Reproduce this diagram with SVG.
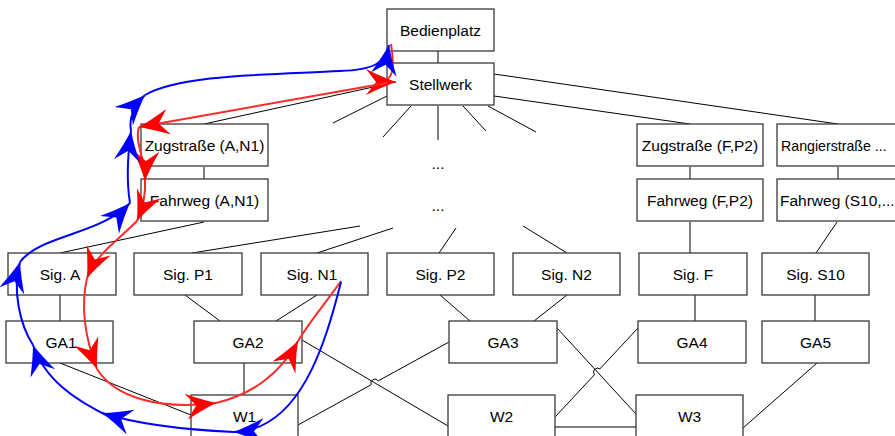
<svg xmlns="http://www.w3.org/2000/svg" width="895" height="436" viewBox="0 0 895 436">
<style>
.n rect{fill:#fff;stroke:#3a3a3a;stroke-width:1.3}
.n text{font-family:"Liberation Sans",Arial,sans-serif;font-size:15.5px;fill:#000;text-anchor:middle}
.c line,.c path{stroke:#000;stroke-width:1;fill:none}
.r{stroke:#ff2a2a;stroke-width:2;fill:none}
.b{stroke:#0000ff;stroke-width:2;fill:none}
.dots{font-family:"Liberation Sans",Arial,sans-serif;font-size:15.5px;text-anchor:middle}
</style>
<defs>
<marker id="ar" viewBox="-32 -15 34 30" refX="0" refY="0" markerWidth="34" markerHeight="30" orient="auto" markerUnits="userSpaceOnUse">
<path d="M0,0 Q-14,-5 -30,-13 L-20,0 L-30,13 Q-14,5 0,0 Z" fill="#ff0000"/>
</marker>
<marker id="ab" viewBox="-32 -15 34 30" refX="0" refY="0" markerWidth="34" markerHeight="30" orient="auto" markerUnits="userSpaceOnUse">
<path d="M0,0 Q-14,-5 -30,-13 L-20,0 L-30,13 Q-14,5 0,0 Z" fill="#0000ff"/>
</marker>
</defs>

<g id="connectors" class="c">
<line x1="438" y1="51" x2="438" y2="63"/>
<line x1="387" y1="84" x2="204" y2="124"/>
<line x1="494" y1="96" x2="690" y2="124"/>
<line x1="494" y1="74" x2="838" y2="124"/>
<line x1="387" y1="96" x2="333" y2="123"/>
<line x1="411" y1="106" x2="383" y2="137"/>
<line x1="438" y1="106" x2="438" y2="140"/>
<line x1="463" y1="106" x2="486" y2="131"/>
<line x1="488" y1="106" x2="536" y2="132"/>
<line x1="204" y1="167" x2="204" y2="179"/>
<line x1="690" y1="167" x2="690" y2="179"/>
<line x1="838" y1="167" x2="838" y2="179"/>
<line x1="204" y1="222" x2="60" y2="253"/>
<line x1="192" y1="253" x2="360" y2="226"/>
<line x1="317" y1="253" x2="393" y2="228"/>
<line x1="439" y1="253" x2="456" y2="228"/>
<line x1="567" y1="253" x2="523" y2="226"/>
<line x1="690" y1="222" x2="690" y2="253"/>
<line x1="837" y1="222" x2="816" y2="253"/>
<line x1="60" y1="295" x2="60" y2="321"/>
<line x1="185" y1="295" x2="220" y2="321"/>
<line x1="317" y1="295" x2="276" y2="321"/>
<line x1="440" y1="295" x2="470" y2="321"/>
<line x1="567" y1="295" x2="534" y2="321"/>
<line x1="695" y1="295" x2="695" y2="321"/>
<line x1="815" y1="295" x2="815" y2="321"/>
<line x1="60" y1="363" x2="191" y2="415"/>
<line x1="244" y1="363" x2="244" y2="395"/>
<line x1="302" y1="340" x2="448" y2="426"/>
<path d="M298,425 L371.2,384.7 A4,4 0 0 1 378.2,380.9 L449,342"/>
<line x1="557" y1="328" x2="636" y2="414"/>
<path d="M555,417 L594.5,374.7 A4,4 0 0 1 599.9,368.9 L638,328"/>
<line x1="555" y1="427" x2="636" y2="427"/>
<line x1="817" y1="363" x2="743" y2="428"/>
</g>

<g id="n-bedienplatz" class="n"><rect x="387" y="9" width="107" height="42"/><text x="440.5" y="35.5">Bedienplatz</text></g>
<g id="n-stellwerk" class="n"><rect x="387" y="63" width="107" height="42"/><text x="440.5" y="89.5">Stellwerk</text></g>
<g id="n-zug-a" class="n"><rect x="141" y="124" width="127" height="42"/><text x="204.5" y="150.5">Zugstraße (A,N1)</text></g>
<g id="n-fahr-a" class="n"><rect x="141" y="179" width="127" height="42"/><text x="204.5" y="205.5">Fahrweg (A,N1)</text></g>
<g id="n-zug-f" class="n"><rect x="637" y="124" width="126" height="42"/><text x="700" y="150.5">Zugstraße (F,P2)</text></g>
<g id="n-rang" class="n"><rect x="777" y="124" width="130" height="42"/><text x="781" y="150.5" style="text-anchor:start;font-size:14.2px">Rangierstraße ...</text></g>
<g id="n-fahr-f" class="n"><rect x="637" y="179" width="126" height="42"/><text x="700" y="205.5">Fahrweg (F,P2)</text></g>
<g id="n-fahr-s" class="n"><rect x="777" y="179" width="130" height="42"/><text x="780" y="205.5" style="text-anchor:start">Fahrweg (S10,...</text></g>
<g id="n-dots1"><text class="dots" x="438" y="169">...</text></g>
<g id="n-dots2"><text class="dots" x="438" y="211">...</text></g>
<g id="n-sig-a" class="n"><rect x="8" y="253" width="108" height="42"/><text x="60" y="279.5">Sig. A</text></g>
<g id="n-sig-p1" class="n"><rect x="134" y="253" width="108" height="42"/><text x="188" y="279.5">Sig. P1</text></g>
<g id="n-sig-n1" class="n"><rect x="261" y="253" width="107" height="42"/><text x="312" y="279.5">Sig. N1</text></g>
<g id="n-sig-p2" class="n"><rect x="387" y="253" width="107" height="42"/><text x="440.5" y="279.5">Sig. P2</text></g>
<g id="n-sig-n2" class="n"><rect x="513" y="253" width="107" height="42"/><text x="566.5" y="279.5">Sig. N2</text></g>
<g id="n-sig-f" class="n"><rect x="639" y="253" width="108" height="42"/><text x="693" y="279.5">Sig. F</text></g>
<g id="n-sig-s10" class="n"><rect x="762" y="253" width="107" height="42"/><text x="815.5" y="279.5">Sig. S10</text></g>
<g id="n-ga1" class="n"><rect x="6" y="321" width="107" height="42"/><text x="61" y="347.5">GA1</text></g>
<g id="n-ga2" class="n"><rect x="194" y="321" width="108" height="42"/><text x="248" y="347.5">GA2</text></g>
<g id="n-ga3" class="n"><rect x="449" y="321" width="108" height="42"/><text x="503" y="347.5">GA3</text></g>
<g id="n-ga4" class="n"><rect x="638" y="321" width="108" height="42"/><text x="692" y="347.5">GA4</text></g>
<g id="n-ga5" class="n"><rect x="762" y="321" width="107" height="42"/><text x="815.5" y="347.5">GA5</text></g>
<g id="n-w1" class="n"><rect x="191" y="395" width="107" height="42"/><text x="244.5" y="421.5">W1</text></g>
<g id="n-w2" class="n"><rect x="448" y="395" width="107" height="42"/><text x="501.5" y="421.5">W2</text></g>
<g id="n-w3" class="n"><rect x="636" y="395" width="107" height="42"/><text x="689.5" y="421.5">W3</text></g>

<g id="flow-red">
<path class="r" d="M391,44 C394,64 394,76 386,80 C382,82 384,82 396,82" marker-end="url(#ar)"/>
<path class="r" d="M387,83 L139,127" marker-end="url(#ar)"/>
<path class="r" d="M139,127 C134,142 146,160 145,181" marker-end="url(#ar)"/>
<path class="r" d="M145,181 C146,195 143,207 137,221" marker-end="url(#ar)"/>
<path class="r" d="M137,221 C115,243 98,252 87,278" marker-end="url(#ar)"/>
<path class="r" d="M87,278 C82,300 82,330 97,369" marker-end="url(#ar)"/>
<path class="r" d="M97,369 C115,398 160,410 216,403" marker-end="url(#ar)"/>
<path class="r" d="M216,403 C250,395 280,375 298,341" marker-end="url(#ar)"/>
<path class="r" d="M298,341 C312,318 328,300 341,281"/>
</g>

<g id="flow-blue">
<path class="b" d="M341,282 C325,345 300,430 234,432" marker-end="url(#ab)"/>
<path class="b" d="M234,432 C190,430 140,425 102,413" marker-end="url(#ab)"/>
<path class="b" d="M110,417 C75,400 45,380 33,345" marker-end="url(#ab)"/>
<path class="b" d="M33,345 C20,325 12,290 20,262" marker-end="url(#ab)"/>
<path class="b" d="M20,262 C40,235 100,235 130,203" marker-end="url(#ab)"/>
<path class="b" d="M130,203 C127,185 127,160 131,131" marker-end="url(#ab)"/>
<path class="b" d="M131,131 C129,120 132,108 145,95" marker-end="url(#ab)"/>
<path class="b" d="M145,95 C180,75 260,75 340,71 C375,70 386,62 389,45" marker-end="url(#ab)"/>
</g>
</svg>
